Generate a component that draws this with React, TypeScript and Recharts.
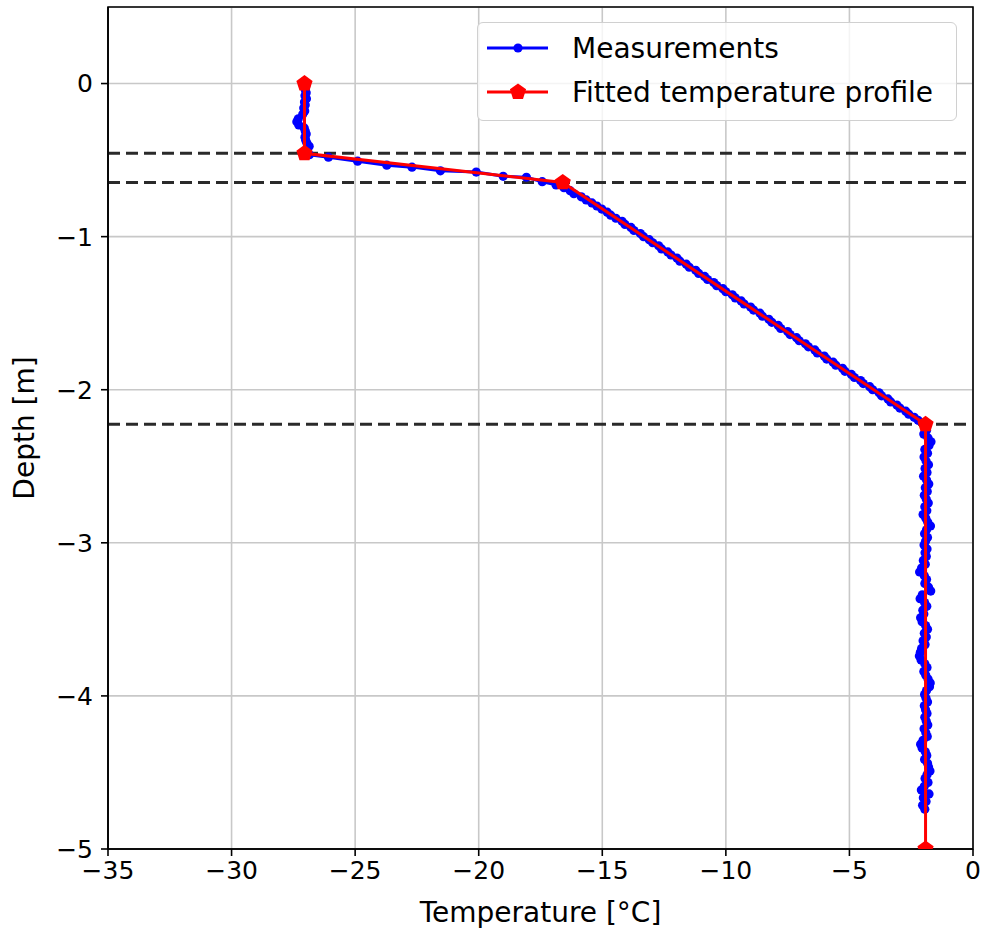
import {
  ScatterChart,
  Scatter,
  XAxis,
  YAxis,
  CartesianGrid,
  ReferenceLine,
  ReferenceArea,
} from "recharts";

// measurements: [temperature °C, depth m]
const measTop: [number, number][] = [
  [-27.0, -0.02], [-27.02, -0.04], [-26.98, -0.06], [-27.03, -0.08],
  [-26.97, -0.1], [-27.05, -0.12], [-27.02, -0.14], [-27.08, -0.16],
  [-27.04, -0.18], [-27.12, -0.2], [-27.3, -0.23], [-27.36, -0.25],
  [-27.28, -0.27], [-27.06, -0.29], [-27.02, -0.31], [-26.98, -0.33],
  [-27.03, -0.35], [-27.0, -0.37], [-26.95, -0.39], [-26.86, -0.41],
  [-26.96, -0.43], [-27.02, -0.45],
];

const measTransition: [number, number][] = [
  [-26.85, -0.465], [-26.08, -0.481], [-24.9, -0.507], [-23.72, -0.533],
  [-22.7, -0.546], [-21.55, -0.57], [-20.1, -0.578], [-19.01, -0.606],
  [-18.07, -0.612], [-17.43, -0.641], [-16.87, -0.662],
];

const measSlope: [number, number][] = [
  [-16.55, -0.68], [-16.3, -0.7], [-16.15, -0.72], [-15.85, -0.74],
  [-15.65, -0.76], [-15.42, -0.78], [-15.22, -0.8], [-15.02, -0.82],
  [-14.8, -0.84], [-14.66, -0.86], [-14.45, -0.88], [-14.2, -0.9],
  [-14.08, -0.92], [-13.84, -0.94], [-13.72, -0.96], [-13.46, -0.98],
  [-13.33, -1.0], [-13.1, -1.02], [-12.96, -1.04], [-12.72, -1.06],
  [-12.6, -1.08], [-12.35, -1.1], [-12.22, -1.12], [-11.98, -1.14],
  [-11.86, -1.16], [-11.6, -1.18], [-11.48, -1.2], [-11.22, -1.22],
  [-11.1, -1.24], [-10.86, -1.26], [-10.74, -1.28], [-10.49, -1.3],
  [-10.37, -1.32], [-10.12, -1.34], [-10.0, -1.36], [-9.74, -1.38],
  [-9.62, -1.4], [-9.38, -1.42], [-9.26, -1.44], [-9.0, -1.46],
  [-8.88, -1.48], [-8.62, -1.5], [-8.52, -1.52], [-8.26, -1.54],
  [-8.14, -1.56], [-7.88, -1.58], [-7.78, -1.6], [-7.5, -1.62],
  [-7.4, -1.64], [-7.14, -1.66], [-7.03, -1.68], [-6.78, -1.7],
  [-6.66, -1.72], [-6.4, -1.74], [-6.3, -1.76], [-6.02, -1.78],
  [-5.92, -1.8], [-5.66, -1.82], [-5.55, -1.84], [-5.28, -1.86],
  [-5.18, -1.88], [-4.92, -1.9], [-4.8, -1.92], [-4.55, -1.94],
  [-4.44, -1.96], [-4.18, -1.98], [-4.06, -2.0], [-3.8, -2.02],
  [-3.7, -2.04], [-3.44, -2.06], [-3.33, -2.08], [-3.08, -2.1],
  [-2.96, -2.12], [-2.72, -2.14], [-2.6, -2.16], [-2.38, -2.18],
  [-2.22, -2.2], [-2.02, -2.22],
];

const measBottom: [number, number][] = [
  [-1.96, -2.24], [-1.88, -2.265], [-1.99, -2.29], [-1.82, -2.315],
  [-1.7, -2.34], [-1.78, -2.365], [-1.95, -2.39], [-1.84, -2.415],
  [-1.98, -2.44], [-1.9, -2.465], [-1.8, -2.49], [-1.94, -2.515],
  [-1.86, -2.54], [-2.0, -2.565], [-1.88, -2.59], [-1.79, -2.615],
  [-1.93, -2.64], [-1.85, -2.665], [-1.97, -2.69], [-1.89, -2.715],
  [-1.81, -2.74], [-1.95, -2.765], [-1.87, -2.79], [-2.02, -2.815],
  [-1.91, -2.84], [-1.83, -2.865], [-1.72, -2.89], [-1.88, -2.915],
  [-1.96, -2.94], [-1.84, -2.965], [-1.92, -2.99], [-1.98, -3.015],
  [-1.86, -3.04], [-1.94, -3.065], [-1.89, -3.09], [-2.01, -3.115],
  [-1.93, -3.14], [-2.08, -3.165], [-2.16, -3.19], [-1.97, -3.215],
  [-1.88, -3.24], [-1.95, -3.265], [-1.8, -3.29], [-1.71, -3.315],
  [-2.05, -3.34], [-2.14, -3.365], [-1.96, -3.39], [-1.87, -3.415],
  [-2.03, -3.44], [-1.99, -3.465], [-2.12, -3.49], [-2.06, -3.515],
  [-1.92, -3.54], [-1.84, -3.565], [-1.97, -3.59], [-1.89, -3.615],
  [-2.02, -3.64], [-1.94, -3.665], [-2.08, -3.69], [-2.13, -3.715],
  [-2.17, -3.74], [-2.1, -3.765], [-1.95, -3.79], [-1.86, -3.815],
  [-1.99, -3.84], [-1.91, -3.865], [-1.82, -3.89], [-1.73, -3.915],
  [-1.76, -3.94], [-1.88, -3.965], [-1.96, -3.99], [-1.9, -4.015],
  [-1.84, -4.04], [-1.97, -4.065], [-1.92, -4.09], [-1.86, -4.115],
  [-1.95, -4.14], [-1.89, -4.165], [-1.83, -4.19], [-1.98, -4.215],
  [-1.91, -4.24], [-1.85, -4.265], [-2.02, -4.29], [-2.12, -4.315],
  [-2.06, -4.34], [-1.93, -4.365], [-1.87, -4.39], [-1.96, -4.415],
  [-1.84, -4.44], [-1.8, -4.465], [-1.74, -4.49], [-1.86, -4.515],
  [-1.94, -4.54], [-1.82, -4.565], [-1.97, -4.59], [-2.09, -4.615],
  [-1.78, -4.64], [-2.01, -4.665], [-1.9, -4.69], [-2.04, -4.715],
  [-1.95, -4.74],
];

// fitted profile nodes
const fitTemps = [-27.05, -27.05, -16.6, -1.92, -1.92];
const fitDepths = [0, -0.456, -0.646, -2.226, -5];

// layer boundaries (dashed)
const layerDepths = [-0.456, -0.646, -2.226];

const xTicks = [-35, -30, -25, -20, -15, -10, -5, 0];
const yTicks = [-5, -4, -3, -2, -1, 0];

const measData = [...measTop, ...measTransition, ...measSlope, ...measBottom].map(
  ([t, d]) => ({ t, d })
);
const fitData = fitTemps.map((t, i) => ({ t, d: fitDepths[i] }));

const FONT = "'DejaVu Sans', sans-serif";
const minus = (v: number) => String(v).replace("-", "\u2212");

const Dot = (props: any) => {
  const { cx, cy } = props;
  if (cx == null || cy == null) return null;
  return <circle cx={cx} cy={cy} r={4.6} fill="#0000ff" />;
};

const Pentagon = (props: any) => {
  const { cx, cy } = props;
  if (cx == null || cy == null) return null;
  const r = 8.5;
  const pts = [0, 1, 2, 3, 4]
    .map((i) => {
      const a = ((-90 + 72 * i) * Math.PI) / 180;
      return `${cx + r * Math.cos(a)},${cy + r * Math.sin(a)}`;
    })
    .join(" ");
  return <polygon points={pts} fill="#ff0000" />;
};

function LegendBox() {
  const rows = [
    { label: "Measurements", color: "#0000ff", y: 25, pent: false },
    { label: "Fitted temperature profile", color: "#ff0000", y: 69, pent: true },
  ];
  return (
    <div
      style={{
        position: "absolute",
        left: 477,
        top: 22,
        width: 480,
        height: 99,
        boxSizing: "border-box",
        background: "rgba(255,255,255,0.8)",
        border: "1.5px solid #d0d0d0",
        borderRadius: 6,
      }}
    >
      <svg width={478} height={97} style={{ display: "block" }}>
        {rows.map((r) => (
          <g key={r.label}>
            <line x1={9} x2={70} y1={r.y} y2={r.y} stroke={r.color} strokeWidth={3} />
            {r.pent ? (
              <Pentagon cx={40} cy={r.y} />
            ) : (
              <circle cx={40} cy={r.y} r={4.6} fill={r.color} />
            )}
            <text x={94} y={r.y + 10} fontSize={28} fontFamily={FONT} fill="#000">
              {r.label}
            </text>
          </g>
        ))}
      </svg>
    </div>
  );
}

function App() {
  return (
    <div style={{ position: "absolute", left: 0, top: 0, width: 985, height: 930, background: "#fff" }}>
      <ScatterChart
        width={985}
        height={930}
        margin={{ top: 7, right: 12, bottom: 0, left: 0 }}
      >
        <CartesianGrid stroke="#c8c8c8" strokeWidth={1.6} />
        <XAxis
          type="number"
          dataKey="t"
          domain={[-35, 0]}
          ticks={xTicks}
          allowDataOverflow
          height={81}
          tickFormatter={minus}
          tick={{ fill: "#000", fontSize: 25, fontFamily: FONT }}
          tickSize={7}
          tickMargin={5}
          stroke="#000"
          strokeWidth={1.6}
          label={{
            value: "Temperature [°C]",
            position: "insideBottom",
            offset: 8,
            fill: "#000",
            fontSize: 28,
            fontFamily: FONT,
          }}
        />
        <YAxis
          type="number"
          dataKey="d"
          domain={[-5, 0.5]}
          ticks={yTicks}
          allowDataOverflow
          width={108}
          tickFormatter={minus}
          tick={{ fill: "#000", fontSize: 25, fontFamily: FONT }}
          tickSize={7}
          tickMargin={8}
          stroke="#000"
          strokeWidth={1.6}
          label={{
            value: "Depth [m]",
            angle: -90,
            position: "insideLeft",
            offset: 24,
            fill: "#000",
            fontSize: 28,
            fontFamily: FONT,
            style: { textAnchor: "middle" },
          }}
        />
        {layerDepths.map((d) => (
          <ReferenceLine
            key={d}
            y={d}
            stroke="#2a2a2a"
            strokeWidth={3}
            strokeDasharray="12 6"
          />
        ))}
        <Scatter
          name="Measurements"
          data={measData}
          fill="#0000ff"
          line={{ stroke: "#0000ff", strokeWidth: 3 }}
          lineType="joint"
          shape={<Dot />}
          isAnimationActive={false}
        />
        <Scatter
          name="Fitted temperature profile"
          data={fitData}
          fill="#ff0000"
          line={{ stroke: "#ff0000", strokeWidth: 3 }}
          lineType="joint"
          shape={<Pentagon />}
          isAnimationActive={false}
        />
        <ReferenceArea
          x1={-35}
          x2={0}
          y1={-5}
          y2={0.5}
          fill="none"
          fillOpacity={0}
          stroke="#000"
          strokeWidth={1.6}
        />
      </ScatterChart>
      <LegendBox />
    </div>
  );
}

export default App;
